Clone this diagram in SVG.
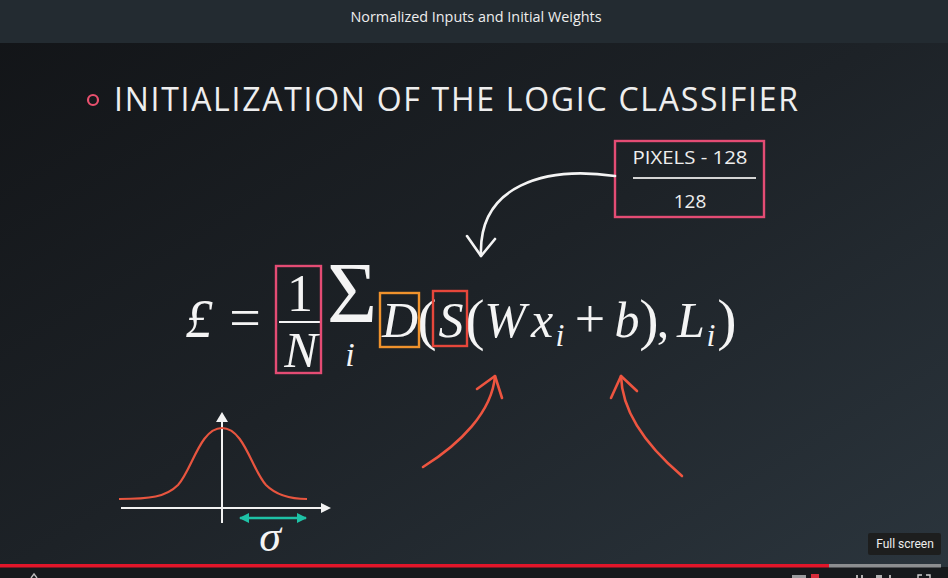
<svg xmlns="http://www.w3.org/2000/svg" width="948" height="578" viewBox="0 0 948 578">
<defs>
<linearGradient id="bg" x1="0" y1="0" x2="1" y2="1">
<stop offset="0" stop-color="#121417"/>
<stop offset="0.5" stop-color="#1d2227"/>
<stop offset="1" stop-color="#2b353d"/>
</linearGradient>
<marker id="tealHead" viewBox="0 0 10 10" refX="9" refY="5" markerWidth="10" markerHeight="10" markerUnits="userSpaceOnUse" orient="auto-start-reverse">
<path d="M0,0 L10,5 L0,10 Z" fill="#1ec2a6"/>
</marker>
</defs>
<style>
.math{font-family:"Liberation Serif","DejaVu Serif",serif;fill:#f4f4f4}
.it{font-style:italic}
.ui{font-family:"Open Sans","Noto Sans",sans-serif;fill:#eeeeee}
.red{fill:none;stroke:#ee5540;stroke-width:2.6;stroke-linecap:round;stroke-linejoin:round}
.wht{fill:none;stroke:#f4f4f4;stroke-width:2.6;stroke-linecap:round;stroke-linejoin:round}
.box{fill:none;stroke-width:2.4}
</style>

<rect x="0" y="0" width="948" height="578" fill="url(#bg)"/>

<g id="top-bar">
<rect x="0" y="0" width="948" height="43" fill="#232b31"/>
<text class="ui" x="476" y="22" font-size="14" text-anchor="middle" textLength="251" lengthAdjust="spacingAndGlyphs">Normalized Inputs and Initial Weights</text>
</g>

<g id="heading">
<circle cx="93" cy="100" r="5" fill="none" stroke="#e8506e" stroke-width="2.2"/>
<text class="ui" x="114" y="111" font-size="32" font-weight="400" textLength="684" lengthAdjust="spacing" fill="#f4f4f4">INITIALIZATION OF THE LOGIC CLASSIFIER</text>
</g>

<g id="normalization-box">
<rect x="615" y="141" width="149" height="76" class="box" stroke="#e44c74"/>
<text class="ui" x="690" y="164" font-size="19" text-anchor="middle" textLength="115" lengthAdjust="spacingAndGlyphs">PIXELS - 128</text>
<line x1="633" y1="178" x2="756" y2="178" stroke="#d4d4d4" stroke-width="2.2"/>
<text class="ui" x="690" y="208" font-size="19" text-anchor="middle">128</text>
</g>

<g id="equation">
<text class="math it" x="199" y="337" text-anchor="middle" style="font-size:54px">£</text>
<text class="math" x="245" y="337" text-anchor="middle" style="font-size:56px">=</text>
<text class="math" x="300" y="311" text-anchor="middle" style="font-size:52px">1</text>
<line x1="279" y1="322" x2="320" y2="322" stroke="#f4f4f4" stroke-width="2"/>
<text class="math it" x="301" y="367" text-anchor="middle" style="font-size:50px">N</text>
<text class="math" x="352" y="322" text-anchor="middle" style="font-size:86px">Σ</text>
<text class="math it" x="350" y="366" text-anchor="middle" style="font-size:34px">i</text>
<text class="math it" x="400" y="337" text-anchor="middle" style="font-size:50px">D</text>
<text class="math" x="427" y="339" text-anchor="middle" style="font-size:58px">(</text>
<text class="math it" x="451" y="337" text-anchor="middle" style="font-size:50px">S</text>
<text class="math" x="475" y="339" text-anchor="middle" style="font-size:58px">(</text>
<text class="math it" x="505" y="337" text-anchor="middle" style="font-size:50px">W</text>
<text class="math it" x="542" y="337" text-anchor="middle" style="font-size:50px">x</text>
<text class="math it" x="560" y="346" text-anchor="middle" style="font-size:32px">i</text>
<text class="math" x="590" y="337" text-anchor="middle" style="font-size:54px">+</text>
<text class="math it" x="627" y="337" text-anchor="middle" style="font-size:50px">b</text>
<text class="math" x="649" y="339" text-anchor="middle" style="font-size:58px">)</text>
<text class="math" x="663" y="337" text-anchor="middle" style="font-size:50px">,</text>
<text class="math it" x="691" y="337" text-anchor="middle" style="font-size:50px">L</text>
<text class="math it" x="711" y="346" text-anchor="middle" style="font-size:32px">i</text>
<text class="math" x="727" y="339" text-anchor="middle" style="font-size:58px">)</text>
</g>

<g id="highlight-boxes">
<rect id="box-1-over-N" x="276" y="266" width="45" height="107" class="box" stroke="#e44c74"/>
<rect id="box-D" x="380" y="293" width="39" height="54" class="box" stroke="#f0922c"/>
<rect id="box-S" x="433" y="291" width="34" height="55" class="box" stroke="#e6473b"/>
</g>

<g id="connectors">
<path class="wht" d="M615,176 C545,166 478,185 481,256"/>
<path class="wht" d="M467,236 L481,256 L495,239"/>
<path class="red" d="M423,467 C460,444 492,412 495,376"/>
<path class="red" d="M477,389 L495,376 L502,398"/>
<path class="red" d="M682,476 C648,447 622,413 621,376"/>
<path class="red" d="M611,398 L621,376 L637,391"/>
</g>

<g id="gaussian-chart">
<line x1="222" y1="523" x2="222" y2="420" stroke="#f2f2f2" stroke-width="2"/>
<path d="M216,422 L222,412 L228,422 Z" fill="#f2f2f2"/>
<line x1="121" y1="508" x2="322" y2="508" stroke="#f2f2f2" stroke-width="2"/>
<path d="M321,503 L331,508 L321,513 Z" fill="#f2f2f2"/>
<path d="M119,499 C150,499 166,497 178,485 C192,470 200,428 222,428 C244,428 252,470 266,485 C278,497 294,499 307,499" fill="none" stroke="#e8553f" stroke-width="2.2"/>
<line x1="240" y1="518" x2="306" y2="518" stroke="#1ec2a6" stroke-width="2.4" marker-start="url(#tealHead)" marker-end="url(#tealHead)"/>
<text class="math it" x="270" y="551" text-anchor="middle" style="font-size:44px">σ</text>
</g>

<g id="player-controls">
<rect x="0" y="567" width="948" height="11" fill="#16191c"/>
<rect x="0" y="564" width="829" height="3.5" fill="#e1162a"/>
<rect x="829" y="564" width="112" height="3.5" fill="#8c8e90"/>
<rect x="868" y="533" width="73" height="22" rx="2" fill="#1c1c1c" fill-opacity="0.92"/>
<text x="905" y="548" font-family="Roboto,'Liberation Sans',sans-serif" font-size="12" fill="#eeeeee" text-anchor="middle">Full screen</text>
<rect x="792" y="575" width="14" height="3" fill="#9a9c9e"/>
<rect x="811" y="574" width="8" height="4" fill="#d52b3a"/>
<rect x="856" y="575" width="2" height="3" fill="#b0b0b0"/>
<rect x="861" y="575" width="2" height="3" fill="#b0b0b0"/>
<rect x="876" y="575" width="6" height="3" fill="#b0b0b0"/>
<rect x="889" y="575" width="2" height="3" fill="#b0b0b0"/>
<path d="M918,578 L918,575 L922,575 M926,575 L930,575 L930,578" fill="none" stroke="#d0d0d0" stroke-width="1.4"/>
<path d="M31,578 L34,574 L37,578" fill="none" stroke="#bbbbbb" stroke-width="1.4"/>
</g>
</svg>
